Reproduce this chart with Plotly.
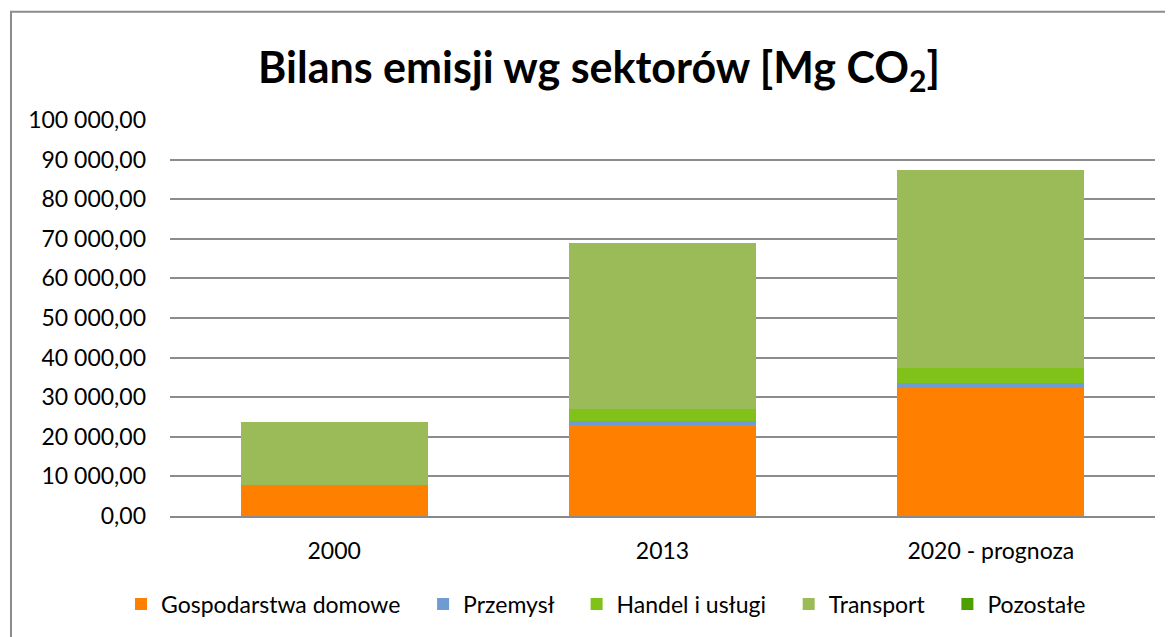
import plotly.graph_objects as go

categories = ["2000", "2013", "2020 - prognoza"]
gospodarstwa = [7760, 22870, 32440]
przemysl = [0, 1010, 1110]
handel = [0, 3120, 3780]
transport = [15920, 41970, 50130]
pozostale = [0, 0, 0]

series = [
    ("Gospodarstwa domowe", gospodarstwa, "#FF8000"),
    ("Przemysł", przemysl, "#6F9BD3"),
    ("Handel i usługi", handel, "#80C21A"),
    ("Transport", transport, "#9BBB59"),
    ("Pozostałe", pozostale, "#4EA000"),
]

OFF = 8  # page body margin
W, H = 1173 - OFF, 637 - OFF
L, R, T, B = 170 - OFF, 1155 - OFF, 119.5 - OFF, 516.5 - OFF

def px_x(x):
    return (x - OFF - L) / (R - L)

def px_y(y):
    return (B - (y - OFF)) / (B - T)

PAD = "\u00a0" * 3  # extra spacing between legend entries

fig = go.Figure()
for i, (name, vals, col) in enumerate(series):
    label = name + (PAD if i < len(series) - 1 else "")
    fig.add_trace(go.Bar(x=categories, y=vals, name=label,
                         marker=dict(color=col, line=dict(width=0))))

fig.update_layout(
    width=W, height=H,
    barmode="stack", bargap=0.43,
    separators=", ",
    paper_bgcolor="white", plot_bgcolor="white",
    margin=dict(l=L, r=W - R, t=T, b=H - B, pad=0),
    font=dict(family="Lato, Open Sans, sans-serif", size=23, color="black"),
    title=dict(text="<b>Bilans emisji wg sektorów [Mg CO<sub>2</sub>]</b>",
               x=(599 - OFF) / W, xanchor="center", xref="container",
               y=1 - (68 - OFF) / H, yanchor="middle", yref="container",
               font=dict(family="Lato, sans-serif", size=43, color="black")),
    legend=dict(orientation="h", xref="container", x=(606 - OFF) / W, xanchor="center",
                yref="container", y=1 - (604 - OFF) / H, yanchor="middle",
                font=dict(size=23), traceorder="normal"),
    showlegend=True,
    xaxis=dict(showgrid=False, showline=True, linecolor="#898989", linewidth=2,
               ticks="", ticklabelstandoff=13),
    yaxis=dict(range=[0, 100000], dtick=10000, tickformat=",.2f",
               showgrid=True, gridcolor="#8C8C8C", gridwidth=1.5,
               zeroline=False, showline=False, ticks="", ticklabelstandoff=23),
)

# outer chart border (top and left visible)
fig.add_shape(type="rect", xref="paper", yref="paper",
              x0=px_x(11), x1=px_x(1190),
              y0=px_y(660), y1=px_y(11),
              line=dict(color="#8C8C8C", width=2), fillcolor="rgba(0,0,0,0)", layer="below")

fig.write_html("out.html")
